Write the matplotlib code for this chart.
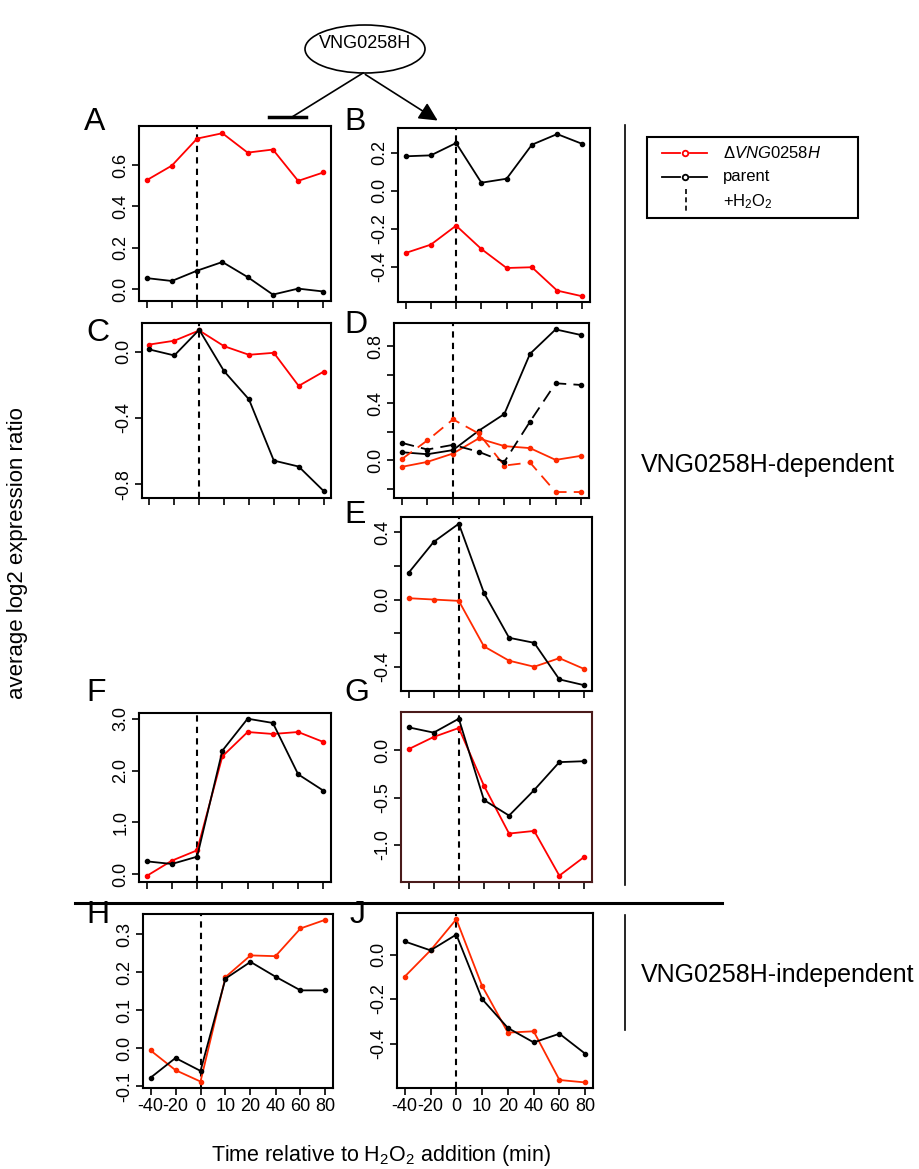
import matplotlib
matplotlib.use("Agg")
import matplotlib.pyplot as plt
from matplotlib.patches import Ellipse, Rectangle

plt.rcParams['font.family'] = ['Liberation Sans', 'DejaVu Sans']
plt.rcParams['axes.unicode_minus'] = False
plt.rcParams['mathtext.fontset'] = 'custom'
plt.rcParams['mathtext.rm'] = 'Liberation Sans'
plt.rcParams['mathtext.it'] = 'Liberation Sans:italic'

# --- data: time points (evenly spaced categories) ---
time_labels = ['-40', '-20', '0', '10', '20', '40', '60', '80']
h2o2_index = 2  # time 0

# values (mutant = deletion strain, parent = wild type)
A_mut = [0.527, 0.598, 0.729, 0.755, 0.661, 0.676, 0.524, 0.565]
A_par = [0.053, 0.039, 0.089, 0.131, 0.058, -0.027, 0.002, -0.012]
B_mut = [-0.328, -0.284, -0.184, -0.307, -0.407, -0.403, -0.526, -0.556]
B_par = [0.181, 0.186, 0.251, 0.042, 0.063, 0.242, 0.298, 0.246]
C_mut = [0.044, 0.067, 0.129, 0.034, -0.018, -0.006, -0.206, -0.12]
C_par = [0.014, -0.022, 0.133, -0.117, -0.287, -0.657, -0.693, -0.84]
D_mut = [-0.047, -0.012, 0.047, 0.153, 0.099, 0.085, 0.002, 0.031]
D_par = [0.056, 0.042, 0.071, 0.207, 0.325, 0.748, 0.920, 0.880]
D_mut2 = [0.007, 0.139, 0.287, 0.188, -0.038, -0.016, -0.224, -0.224]
D_par2 = [0.122, 0.075, 0.108, 0.059, -0.012, 0.271, 0.541, 0.529]
E_mut = [0.008, 0.0, -0.008, -0.278, -0.363, -0.399, -0.348, -0.413]
E_par = [0.158, 0.342, 0.450, 0.040, -0.227, -0.257, -0.474, -0.509]
F_mut = [-0.039, 0.258, 0.458, 2.277, 2.748, 2.71, 2.748, 2.555]
F_par = [0.245, 0.194, 0.335, 2.387, 3.006, 2.923, 1.929, 1.613]
G_mut = [0.011, 0.140, 0.235, -0.375, -0.881, -0.853, -1.326, -1.126]
G_par = [0.242, 0.186, 0.333, -0.526, -0.691, -0.421, -0.126, -0.116]
H_mut = [-0.006, -0.058, -0.088, 0.187, 0.244, 0.242, 0.315, 0.338]
H_par = [-0.078, -0.026, -0.06, 0.183, 0.227, 0.188, 0.152, 0.152]
J_mut = [-0.099, 0.019, 0.159, -0.141, -0.351, -0.345, -0.564, -0.575]
J_par = [0.059, 0.019, 0.090, -0.2, -0.33, -0.395, -0.356, -0.446]

W, H = 919, 1169
RED = '#ff0000'
RED2 = '#ff2a00'

fig = plt.figure(figsize=(W / 100, H / 100), dpi=100)


def make_panel(box, ylim, yticks, ylabels, letter, lpos, xlabels=False, frame='black'):
    left, top, right, bottom = box
    ax = fig.add_axes([left / W, 1 - bottom / H, (right - left) / W, (bottom - top) / H])
    ax.set_xlim(-0.3, 7.3)
    ax.set_ylim(*ylim)
    ax.set_xticks(range(len(time_labels)))
    ax.set_xticklabels(time_labels if xlabels else [''] * len(time_labels), fontsize=13)
    ax.set_yticks(yticks)
    ax.set_yticklabels(ylabels, rotation=90, va='center', fontsize=13)
    ax.tick_params(direction='out', length=5, width=1.2, pad=2)
    for s in ax.spines.values():
        s.set_linewidth(1.5)
        s.set_color(frame)
    ax.axvline(h2o2_index, color='black', lw=1.5, ls=(0, (3, 2.5)), zorder=1)
    fig.text(lpos[0] / W, 1 - lpos[1] / H, letter, fontsize=23, ha='left', va='center')
    return ax


def draw(ax, mut, par, red=RED, ls='-'):
    x = range(len(time_labels))
    ax.plot(x, mut, color=red, lw=1.3, ls=ls, marker='o', ms=3, zorder=3)
    ax.plot(x, par, color='black', lw=1.3, ls=ls, marker='o', ms=3, zorder=3)


ax = make_panel((139, 126, 331, 301), (-0.058, 0.79), [0, 0.2, 0.4, 0.6],
                ['0.0', '0.2', '0.4', '0.6'], 'A', (84, 122))
draw(ax, A_mut, A_par)

ax = make_panel((398, 128, 590, 302), (-0.586, 0.33), [-0.4, -0.2, 0, 0.2],
                ['-0.4', '-0.2', '0.0', '0.2'], 'B', (344, 122))
draw(ax, B_mut, B_par)

ax = make_panel((142, 323, 331, 498), (-0.883, 0.174), [-0.8, -0.4, 0],
                ['-0.8', '-0.4', '0.0'], 'C', (86, 333))
draw(ax, C_mut, C_par)

ax = make_panel((394, 323, 589, 498), (-0.266, 0.965), [-0.2, 0, 0.2, 0.4, 0.6, 0.8],
                ['', '0.0', '', '0.4', '', '0.8'], 'D', (344, 325))
draw(ax, D_mut, D_par, red=RED2)
draw(ax, D_mut2, D_par2, red=RED2, ls=(0, (7, 4)))

ax = make_panel((401, 517, 592, 691), (-0.543, 0.49), [-0.4, -0.2, 0, 0.2, 0.4],
                ['-0.4', '', '0.0', '', '0.4'], 'E', (344, 515))
draw(ax, E_mut, E_par, red=RED2)

ax = make_panel((139, 713, 331, 882), (-0.155, 3.116), [0, 1, 2, 3],
                ['0.0', '1.0', '2.0', '3.0'], 'F', (86, 693))
draw(ax, F_mut, F_par)

ax = make_panel((401, 712, 592, 882), (-1.393, 0.404), [-1.0, -0.5, 0],
                ['-1.0', '-0.5', '0.0'], 'G', (344, 693), frame='#4a1a1a')
draw(ax, G_mut, G_par)

ax = make_panel((143, 914, 333, 1088), (-0.105, 0.353), [-0.1, 0, 0.1, 0.2, 0.3],
                ['-0.1', '0.0', '0.1', '0.2', '0.3'], 'H', (86, 915), xlabels=True)
draw(ax, H_mut, H_par, red=RED2)

ax = make_panel((397, 913, 593, 1088), (-0.6, 0.187), [-0.4, -0.2, 0],
                ['-0.4', '-0.2', '0.0'], 'J', (350, 915), xlabels=True)
draw(ax, J_mut, J_par, red=RED2)

# --- annotation layer in pixel coordinates ---
ov = fig.add_axes([0, 0, 1, 1], zorder=-1)
ov.set_xlim(0, W)
ov.set_ylim(H, 0)
ov.axis('off')

ov.add_patch(Ellipse((365, 49), 120, 48, fill=False, lw=1.2))
ov.text(365, 43, 'VNG0258H', ha='center', va='center', fontsize=13)
ov.plot([363, 292], [73, 117], color='black', lw=1.2)
ov.plot([269, 306], [117, 117], color='black', lw=2.5)
ov.annotate('', xy=(440, 122), xytext=(363, 73),
            arrowprops=dict(arrowstyle='-|>', mutation_scale=28, lw=1.2, color='black'))

ov.plot([75, 722], [903, 903], color='black', lw=2.2)
ov.plot([625, 625], [125, 885], color='black', lw=1.2)
ov.plot([625, 625], [915, 1030], color='black', lw=1.2)

# legend
ov.add_patch(Rectangle((647, 137), 211, 81, fill=False, lw=1.5))
for y, c, lab in [(153, RED, r'$\Delta\mathit{VNG0258H}$'), (177, 'black', 'parent')]:
    ov.plot([662, 680], [y, y], color=c, lw=1.3)
    ov.plot([690, 707], [y, y], color=c, lw=1.3)
    ov.plot([685], [y], marker='o', ms=4, mfc='white', mec=c, mew=1.3)
    ov.text(723, y, lab, ha='left', va='center', fontsize=12)
ov.plot([686, 686], [189, 212], color='black', lw=1.2, ls=(0, (3, 2)))
ov.text(723, 202, r'+H$_2$O$_2$', ha='left', va='center', fontsize=12)

ov.text(641, 465, 'VNG0258H-dependent', ha='left', va='center', fontsize=18)
ov.text(641, 975, 'VNG0258H-independent', ha='left', va='center', fontsize=18)
ov.text(18, 553, 'average log2 expression ratio', rotation=90, ha='center', va='center', fontsize=16)
ov.text(381, 1155, r'Time relative to H$_2$O$_2$ addition (min)', ha='center', va='center', fontsize=15.5)

fig.savefig('out.png', dpi=100)
